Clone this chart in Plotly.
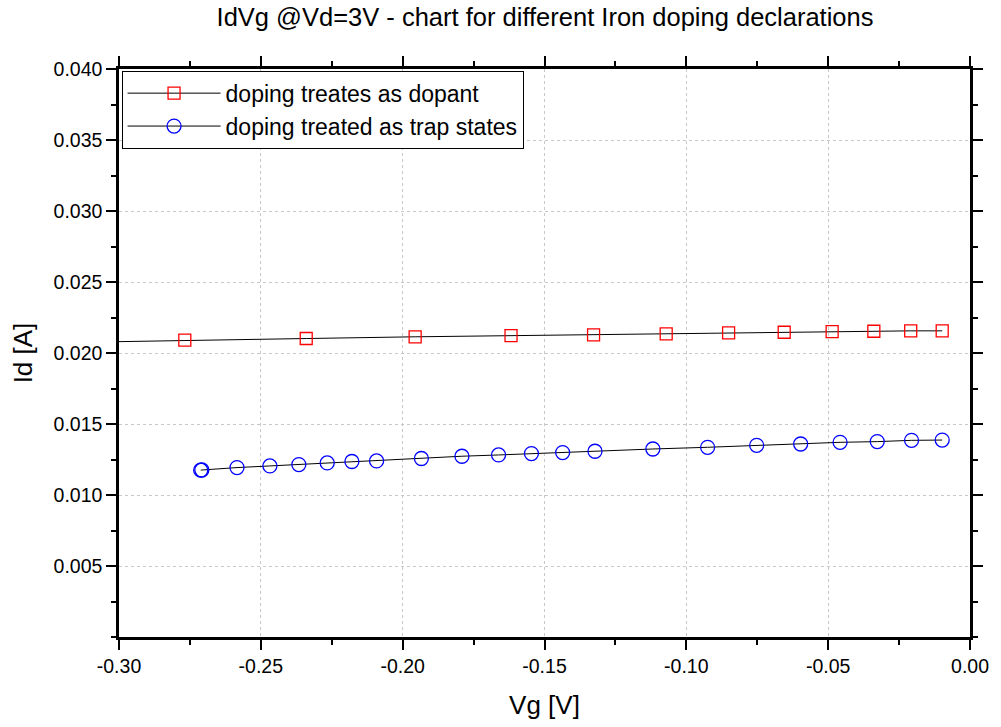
import plotly.graph_objects as go

# Series 1: doping treated as dopant (red squares)
vg_dopant = [-0.330, -0.2768, -0.2340, -0.1956, -0.1618, -0.1327, -0.1071, -0.0851,
             -0.0655, -0.0486, -0.0339, -0.0209, -0.0098]
id_dopant = [0.02070, 0.02090, 0.02102, 0.02114, 0.02123, 0.02128, 0.02135, 0.02142,
             0.02146, 0.02151, 0.02153, 0.02156, 0.02156]

# Series 2: doping treated as trap states (blue circles)
vg_trap = [-0.2712, -0.2708, -0.2584, -0.2468, -0.2366, -0.2266, -0.2179, -0.2092, -0.1934,
           -0.1791, -0.1662, -0.1546, -0.1436, -0.1322, -0.1118, -0.0925, -0.0752,
           -0.0597, -0.0458, -0.0327, -0.0206, -0.0098]
id_trap = [0.01175, 0.01176, 0.01193, 0.01205, 0.01214, 0.01226, 0.01236, 0.01240, 0.01257,
           0.01273, 0.01282, 0.01292, 0.01299, 0.01308, 0.01324, 0.01336, 0.01350,
           0.01359, 0.01371, 0.01376, 0.01385, 0.01387]

# Tick labels
x_tickvals = [-0.30, -0.25, -0.20, -0.15, -0.10, -0.05, 0.00]
x_ticktext = ["-0.30", "-0.25", "-0.20", "-0.15", "-0.10", "-0.05", "0.00"]
y_tickvals = [0.005, 0.010, 0.015, 0.020, 0.025, 0.030, 0.035, 0.040]
y_ticktext = ["0.005", "0.010", "0.015", "0.020", "0.025", "0.030", "0.035", "0.040"]

FONT = "Liberation Sans, Arial, sans-serif"

fig = go.Figure()
fig.add_trace(go.Scatter(
    x=vg_dopant, y=id_dopant, mode="lines+markers", name="doping treates as dopant",
    line=dict(color="black", width=1),
    marker=dict(symbol="square-open", size=12, color="red", line=dict(width=1.3, color="red")),
))
fig.add_trace(go.Scatter(
    x=vg_trap, y=id_trap, mode="lines+markers", name="doping treated as trap states",
    line=dict(color="black", width=1),
    marker=dict(symbol="circle-open", size=14, color="blue", line=dict(width=1.3, color="blue")),
))

axis_common = dict(
    showline=True, linecolor="black", linewidth=2.5, mirror="ticks",
    ticks="outside", ticklen=10, tickwidth=2, tickcolor="black",
    showgrid=True, gridcolor="#c8c8c8", griddash="dot", gridwidth=1,
    zeroline=False,
    tickfont=dict(family=FONT, size=19.5, color="black"),
)

fig.update_layout(
    width=1001, height=727,
    margin=dict(l=119, r=26, t=69, b=89),
    paper_bgcolor="white", plot_bgcolor="white",
    title=dict(text="IdVg @Vd=3V - chart for different Iron doping declarations",
               x=0.5445, xref="container", xanchor="center",
               y=0.977, yanchor="middle", yref="container",
               font=dict(family=FONT, size=25.5, color="black")),
    showlegend=True,
    legend=dict(x=0.003, y=0.997, xanchor="left", yanchor="top",
                bordercolor="black", borderwidth=1, bgcolor="white",
                font=dict(family=FONT, size=23, color="black"),
                itemwidth=93, tracegroupgap=0),
    font=dict(family=FONT, color="black"),
)

fig.update_xaxes(
    range=[-0.30, 0.0], tickvals=x_tickvals, ticktext=x_ticktext,
    minor=dict(ticks="outside", ticklen=5, tickwidth=1.5, tickcolor="black", dtick=0.025, showgrid=False),
    title=dict(text="Vg [V]", font=dict(family=FONT, size=26, color="black"), standoff=20),
    **axis_common,
)
fig.update_yaxes(
    range=[0.0, 0.040], tickvals=y_tickvals, ticktext=y_ticktext,
    minor=dict(ticks="outside", ticklen=5, tickwidth=1.5, tickcolor="black", dtick=0.0025, showgrid=False),
    title=dict(text="Id [A]", font=dict(family=FONT, size=26, color="black"), standoff=14),
    **axis_common,
)

fig.write_html("out.html")
